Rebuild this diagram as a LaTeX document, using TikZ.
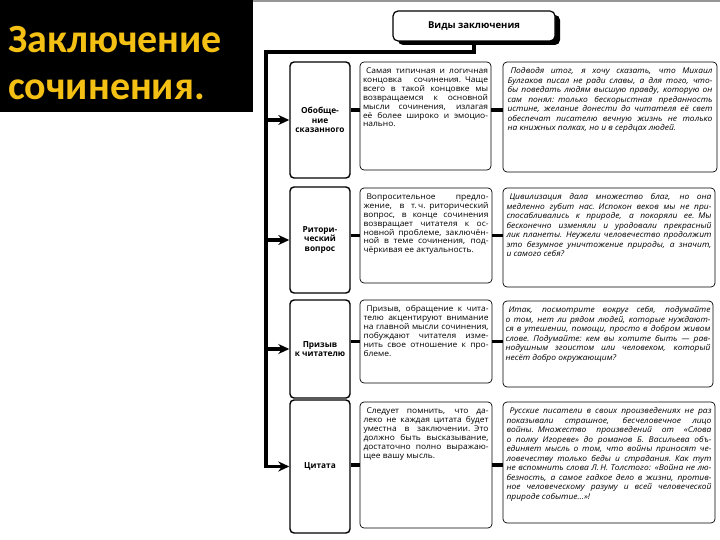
\documentclass[tikz,border=0pt]{standalone}
\usepackage{fontspec}
\setmainfont{Open Sans}
\newfontfamily\headfont{Carlito}
\newfontfamily\descfont[FakeStretch=1.07]{Open Sans}
\usetikzlibrary{arrows.meta,shadows}
\definecolor{titlegold}{RGB}{245,192,20}
\definecolor{topgray}{RGB}{150,150,150}
\newcommand\Ld[1]{\hbox to 125pt{\spaceskip=.26em plus 4em minus .05em\relax #1}}
\newcommand\Le[1]{\hbox to 205pt{\spaceskip=.26em plus 4em minus .05em\relax #1}}
\newcommand\Lz[1]{\hbox{\spaceskip=.28em\relax #1}}
\begin{document}
\begin{tikzpicture}[x=1pt,y=-1pt,
  lbox/.style={draw, line width=1.4pt, rounded corners=4pt, fill=white, minimum width=60pt, inner sep=0pt,
    font=\bfseries\fontsize{8.3}{9.6}\selectfont, align=center},
  tbox/.style={draw, line width=0.7pt, rounded corners=4pt, fill=white, inner sep=0pt},
  desctext/.style={anchor=north, inner sep=0pt, text width=125pt, align=left,
    font=\descfont\fontsize{7.9}{8.9}\selectfont},
  extext/.style={anchor=north, inner sep=0pt, text width=205pt, align=left,
    font=\descfont\itshape\fontsize{7.9}{9.5}\selectfont},
  conn/.style={line width=3.5pt},
  trunk/.style={line width=3.5pt, line join=miter},
  tip/.style={-{Stealth[length=11pt,width=10pt]}},
  headline/.style={anchor=base west, inner sep=0pt, text=titlegold,
    font=\headfont\bfseries\fontsize{40}{46}\selectfont}
]
\useasboundingbox (0,0) rectangle (720,540);
\fill[black] (0,0) rectangle (253,112);
\fill[topgray] (253,0) rectangle (720,2.5);
\node[headline] (h1) at (8,53) {Заключение};
\node[headline] (h2) at (8,100) {сочинения.};

% title box
\node[draw, line width=1.2pt, rounded corners=5pt, fill=white, minimum width=162pt, minimum height=30pt,
  inner sep=0pt, font=\bfseries\fontsize{9.5}{11}\selectfont,
  drop shadow={shadow xshift=5pt, shadow yshift=-4pt, fill=black, opacity=1}] (title) at (474,26) {Виды заключения};

% label boxes
\node[lbox, minimum height=116pt] (l1) at (320,120) {Обобще-\\ние\\сказанного};
\node[lbox, minimum height=106pt] (l2) at (320,240) {Ритори-\\ческий\\вопрос};
\node[lbox, minimum height=98pt] (l3) at (320,349) {Призыв\\к читателю};
\node[lbox, minimum height=133pt] (l4) at (320,466.5) {Цитата};

% description boxes
\node[tbox, minimum width=131pt, minimum height=108pt] (t1) at (425.5,116) {};
\node[tbox, minimum width=132pt, minimum height=95pt] (t2) at (426,235.5) {};
\node[tbox, minimum width=132pt, minimum height=83pt] (t3) at (426,341.5) {};
\node[tbox, minimum width=132pt, minimum height=126pt] (t4) at (426,465) {};

% example boxes
\node[tbox, minimum width=214pt, minimum height=110pt] (e1) at (610,117) {};
\node[tbox, minimum width=212pt, minimum height=99pt] (e2) at (609,237.5) {};
\node[tbox, minimum width=210pt, minimum height=86pt] (e3) at (608,344) {};
\node[tbox, minimum width=212pt, minimum height=121pt] (e4) at (609,462.5) {};

% description texts
\node[desctext] (d1) at ([yshift=-6pt]t1.north) {%
\Ld{\hspace{3pt}Самая типичная и логичная}
\Ld{концовка сочинения. Чаще}
\Ld{всего в такой концовке мы}
\Ld{возвращаемся к основной}
\Ld{мысли сочинения, излагая}
\Ld{её более широко и эмоцио-}
\Lz{нально.}};
\node[desctext] (d2) at ([yshift=-6pt]t2.north) {%
\Ld{\hspace{3pt}Вопросительное предло-}
\Ld{жение, в т.\,ч. риторический}
\Ld{вопрос, в конце сочинения}
\Ld{возвращает читателя к ос-}
\Ld{новной проблеме, заключён-}
\Ld{ной в теме сочинения, под-}
\Lz{чёркивая ее актуальность.}};
\node[desctext] (d3) at ([yshift=-6pt]t3.north) {%
\Ld{\hspace{3pt}Призыв, обращение к чита-}
\Ld{телю акцентируют внимание}
\Ld{на главной мысли сочинения,}
\Ld{побуждают читателя изме-}
\Ld{нить свое отношение к про-}
\Lz{блеме.}};
\node[desctext] (d4) at ([yshift=-6pt]t4.north) {%
\Ld{\hspace{3pt}Следует помнить, что да-}
\Ld{леко не каждая цитата будет}
\Ld{уместна в заключении. Это}
\Ld{должно быть высказывание,}
\Ld{достаточно полно выражаю-}
\Lz{щее вашу мысль.}};

% example texts
\node[extext] (x1) at ([yshift=-6pt]e1.north) {%
\Le{\hspace{3pt}Подводя итог, я хочу сказать, что Михаил}
\Le{Булгаков писал не ради славы, а для того, что-}
\Le{бы поведать людям высшую правду, которую он}
\Le{сам понял: только бескорыстная преданность}
\Le{истине, желание донести до читателя её свет}
\Le{обеспечат писателю вечную жизнь не только}
\Lz{на книжных полках, но и в сердцах людей.}};
\node[extext] (x2) at ([yshift=-6pt]e2.north) {%
\Le{\hspace{3pt}Цивилизация дала множество благ, но она}
\Le{медленно губит нас. Испокон веков мы не при-}
\Le{спосабливались к природе, а покоряли ее. Мы}
\Le{бесконечно изменяли и уродовали прекрасный}
\Le{лик планеты. Неужели человечество продолжит}
\Le{это безумное уничтожение природы, а значит,}
\Lz{и самого себя?}};
\node[extext] (x3) at ([yshift=-6pt]e3.north) {%
\Le{\hspace{3pt}Итак, посмотрите вокруг себя, подумайте}
\Le{о том, нет ли рядом людей, которые нуждают-}
\Le{ся в утешении, помощи, просто в добром живом}
\Le{слове. Подумайте: кем вы хотите быть — рав-}
\Le{нодушным эгоистом или человеком, который}
\Lz{несёт добро окружающим?}};
\node[extext] (x4) at ([yshift=-6pt]e4.north) {%
\Le{\hspace{3pt}Русские писатели в своих произведениях не раз}
\Le{показывали страшное, бесчеловечное лицо}
\Le{войны. Множество произведений от «Слова}
\Le{о полку Игореве» до романов Б. Васильева объ-}
\Le{единяет мысль о том, что войны приносят че-}
\Le{ловечеству только беды и страдания. Как тут}
\Le{не вспомнить слова Л.\,Н. Толстого: «Война не лю-}
\Le{безность, а самое гадкое дело в жизни, против-}
\Le{ное человеческому разуму и всей человеческой}
\Lz{природе событие…»!}};

% connectors
\coordinate (c1) at ([yshift=6pt]t1.west);
\draw[conn] (c1 -| l1.east) -- (c1);
\draw[conn] (t1.east |- c1) -- (c1 -| e1.west);
\draw[conn] (l2.east |- t2.west) -- (t2.west);
\draw[conn] (t2.east) -- (t2.east -| e2.west);
\draw[conn] (l3.east |- t3.west) -- (t3.west);
\draw[conn] (t3.east) -- (t3.east -| e3.west);
\draw[conn] (l4.east |- t4.west) -- (t4.west);
\draw[conn] (t4.east) -- (t4.east -| e4.west);

% trunk
\coordinate (j) at (266,52);
\draw[trunk, tip] (title.south) |- (j) |- (l4.west);
\draw[trunk, tip] (j |- l1.west) -- (l1.west);
\draw[trunk, tip] (j |- l2.west) -- (l2.west);
\draw[trunk, tip] (j |- l3.west) -- (l3.west);
\end{tikzpicture}
\end{document}
